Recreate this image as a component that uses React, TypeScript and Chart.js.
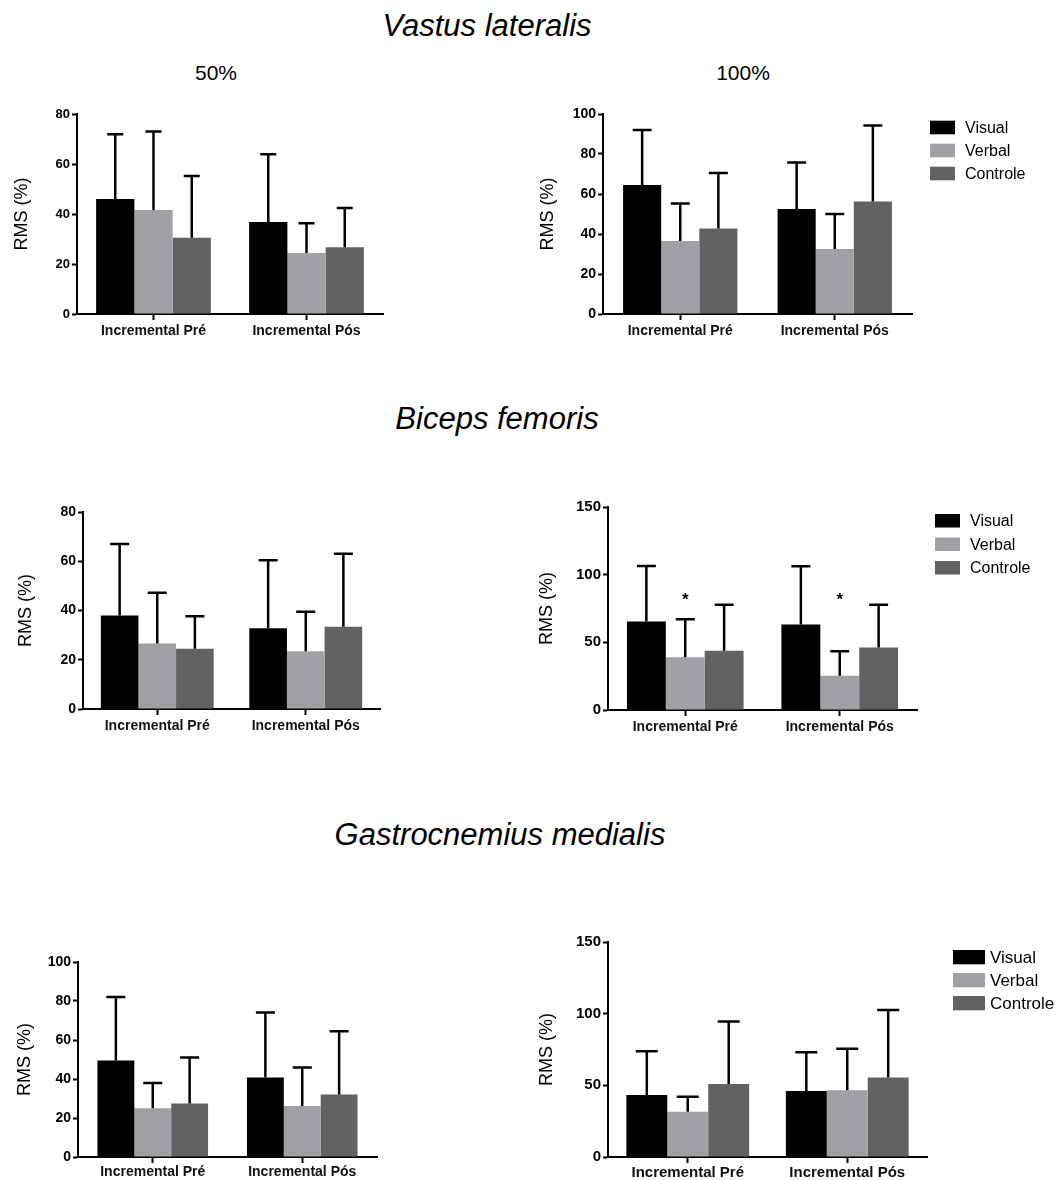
import React, { useEffect, useRef } from "react";
import { Chart, registerables } from "chart.js";

Chart.register(...registerables);

const FONT = "'Liberation Sans', Arial, Helvetica, sans-serif";

// ---------- data ----------
const categories = ["Incremental Pré", "Incremental Pós"];
const groups = ["Visual", "Verbal", "Controle"];
const groupColors = ["#000000", "#a1a1a5", "#626262"];
const yAxisTitle = "RMS (%)";

// Vastus lateralis 50%
const vl50Visual = [46, 36.8];
const vl50Verbal = [41.6, 24.4];
const vl50Controle = [30.5, 26.7];
const vl50VisualSD = [25.9, 27.1];
const vl50VerbalSD = [31.4, 11.9];
const vl50ControleSD = [24.7, 15.7];

// Vastus lateralis 100%
const vl100Visual = [64.5, 52.5];
const vl100Verbal = [36.5, 32.5];
const vl100Controle = [42.8, 56.2];
const vl100VisualSD = [27.5, 23.3];
const vl100VerbalSD = [18.7, 17.5];
const vl100ControleSD = [27.7, 38.1];

// Biceps femoris 50%
const bf50Visual = [38, 32.8];
const bf50Verbal = [26.6, 23.5];
const bf50Controle = [24.5, 33.4];
const bf50VisualSD = [29, 27.6];
const bf50VerbalSD = [20.6, 16];
const bf50ControleSD = [13.2, 29.6];

// Biceps femoris 100%
const bf100Visual = [65.4, 63.2];
const bf100Verbal = [39, 25.4];
const bf100Controle = [43.7, 46.1];
const bf100VisualSD = [41, 43];
const bf100VerbalSD = [28, 18];
const bf100ControleSD = [34, 31.6];
const bf100VerbalStars = [84, 84];

// Gastrocnemius medialis 50%
const gm50Visual = [49.5, 40.8];
const gm50Verbal = [25, 26.2];
const gm50Controle = [27.5, 32];
const gm50VisualSD = [32.5, 33.3];
const gm50VerbalSD = [12.9, 19.7];
const gm50ControleSD = [23.5, 32.5];

// Gastrocnemius medialis 100%
const gm100Visual = [43.3, 46];
const gm100Verbal = [31.5, 46.5];
const gm100Controle = [51, 55.5];
const gm100VisualSD = [30.5, 27];
const gm100VerbalSD = [10.5, 29];
const gm100ControleSD = [43.5, 47];

const yMaxes = [80, 100, 80, 150, 100, 150];
const ySteps = [20, 20, 20, 50, 20, 50];

// ---------- panels ----------
type Panel = {
  means: number[][];
  sds: number[][];
  yMax: number;
  yStep: number;
  stars?: number[];
  legend?: { dx: number; dy: number; bw: number; bh: number; gap: number; tg: number; font: number };
  box: { L: number; T: number; W: number; H: number; padT: number; padB: number; padR: number; wy: number; hx: number };
  titlePad: number;
  yFont: number;
  xFont: number;
  xPad: number;
  cat: number;
  cap: number;
};

const panels: Panel[] = [
  {
    means: [vl50Visual, vl50Verbal, vl50Controle],
    sds: [vl50VisualSD, vl50VerbalSD, vl50ControleSD],
    yMax: yMaxes[0], yStep: ySteps[0],
    box: { L: 0, T: 100, W: 393, H: 249, padT: 14, padB: 5, padR: 10, wy: 77, hx: 30 },
    titlePad: 11, yFont: 13, xFont: 14, xPad: 3, cat: 0.75, cap: 16,
  },
  {
    means: [vl100Visual, vl100Verbal, vl100Controle],
    sds: [vl100VisualSD, vl100VerbalSD, vl100ControleSD],
    yMax: yMaxes[1], yStep: ySteps[1],
    legend: { dx: 18, dy: 6.7, bw: 25, bh: 13.6, gap: 23, tg: 10, font: 16 },
    box: { L: 530, T: 100, W: 529, H: 249, padT: 14, padB: 5, padR: 147, wy: 73, hx: 30 },
    titlePad: 7, yFont: 14, xFont: 14, xPad: 3, cat: 0.74, cap: 19,
  },
  {
    means: [bf50Visual, bf50Verbal, bf50Controle],
    sds: [bf50VisualSD, bf50VerbalSD, bf50ControleSD],
    yMax: yMaxes[2], yStep: ySteps[2],
    box: { L: 0, T: 497, W: 390, H: 247, padT: 15, padB: 5, padR: 10, wy: 83, hx: 30 },
    titlePad: 15, yFont: 14, xFont: 14, xPad: 3, cat: 0.76, cap: 19,
  },
  {
    means: [bf100Visual, bf100Verbal, bf100Controle],
    sds: [bf100VisualSD, bf100VerbalSD, bf100ControleSD],
    yMax: yMaxes[3], yStep: ySteps[3],
    stars: bf100VerbalStars,
    legend: { dx: 18, dy: 7, bw: 25, bh: 13.5, gap: 23.5, tg: 10, font: 16 },
    box: { L: 530, T: 492, W: 529, H: 253, padT: 15, padB: 5, padR: 142, wy: 78, hx: 30 },
    titlePad: 6, yFont: 15, xFont: 14, xPad: 3, cat: 0.755, cap: 19,
  },
  {
    means: [gm50Visual, gm50Verbal, gm50Controle],
    sds: [gm50VisualSD, gm50VerbalSD, gm50ControleSD],
    yMax: yMaxes[4], yStep: ySteps[4],
    box: { L: 0, T: 947, W: 387, H: 232, padT: 15, padB: 0, padR: 10, wy: 78, hx: 22 },
    titlePad: 14, yFont: 14, xFont: 14, xPad: 1, cat: 0.74, cap: 19,
  },
  {
    means: [gm100Visual, gm100Verbal, gm100Controle],
    sds: [gm100VisualSD, gm100VerbalSD, gm100ControleSD],
    yMax: yMaxes[5], yStep: ySteps[5],
    legend: { dx: 26, dy: 8, bw: 32, bh: 14.3, gap: 23, tg: 5, font: 17 },
    box: { L: 530, T: 927, W: 529, H: 252, padT: 15, padB: 0, padR: 132, wy: 78, hx: 22 },
    titlePad: 6, yFont: 15, xFont: 15, xPad: 1, cat: 0.77, cap: 22,
  },
];

const headings = [
  { text: "Vastus lateralis", cx: 487, top: 8 },
  { text: "Biceps femoris", cx: 497, top: 401 },
  { text: "Gastrocnemius medialis", cx: 500, top: 817 },
];
const subHeadings = [
  { text: "50%", cx: 216, top: 60 },
  { text: "100%", cx: 743, top: 60 },
];

function makeOverlay(p: Panel) {
  return {
    id: "overlay",
    afterDatasetsDraw(chart: any) {
      const ctx = chart.ctx;
      const yS = chart.scales.y;
      ctx.save();
      ctx.strokeStyle = "#000";
      ctx.lineWidth = 2.5;
      chart.data.datasets.forEach((ds: any, i: number) => {
        const meta = chart.getDatasetMeta(i);
        meta.data.forEach((el: any, j: number) => {
          const v = ds.data[j];
          const top = yS.getPixelForValue(v + p.sds[i][j]);
          ctx.beginPath();
          ctx.moveTo(el.x, el.y);
          ctx.lineTo(el.x, top);
          ctx.moveTo(el.x - p.cap / 2, top);
          ctx.lineTo(el.x + p.cap / 2, top);
          ctx.stroke();
        });
      });
      if (p.stars) {
        const meta = chart.getDatasetMeta(1);
        ctx.fillStyle = "#000";
        ctx.font = `bold 17px ${FONT}`;
        ctx.textAlign = "center";
        ctx.textBaseline = "middle";
        meta.data.forEach((el: any, j: number) => {
          ctx.fillText("*", el.x, yS.getPixelForValue(p.stars![j]) + 4);
        });
      }
      ctx.restore();
    },
    afterDraw(chart: any) {
      if (!p.legend) return;
      const lg = p.legend;
      const ctx = chart.ctx;
      const ca = chart.chartArea;
      ctx.save();
      ctx.font = `${lg.font}px ${FONT}`;
      ctx.textAlign = "left";
      ctx.textBaseline = "middle";
      chart.data.datasets.forEach((ds: any, i: number) => {
        const x = ca.right + lg.dx;
        const y = ca.top + lg.dy + i * lg.gap;
        ctx.fillStyle = ds.backgroundColor;
        ctx.fillRect(x, y, lg.bw, lg.bh);
        ctx.fillStyle = "#000";
        ctx.fillText(ds.label, x + lg.bw + lg.tg, y + lg.bh / 2 + 1);
      });
      ctx.restore();
    },
  };
}

function BarPanel({ p }: { p: Panel }) {
  const ref = useRef<HTMLCanvasElement>(null);
  useEffect(() => {
    if (!ref.current) return;
    const chart = new Chart(ref.current, {
      type: "bar",
      data: {
        labels: categories,
        datasets: groups.map((g, i) => ({
          label: g,
          data: p.means[i],
          backgroundColor: groupColors[i],
          borderWidth: 0,
          categoryPercentage: p.cat,
          barPercentage: 1,
        })),
      },
      options: {
        responsive: false,
        animation: false,
        devicePixelRatio: 1,
        layout: { padding: { left: 0, top: p.box.padT, right: p.box.padR, bottom: p.box.padB } },
        plugins: { legend: { display: false }, tooltip: { enabled: false } },
        scales: {
          x: {
            grid: { drawOnChartArea: false, offset: false, drawTicks: true, tickLength: 6, tickColor: "#000", tickWidth: 2 },
            border: { color: "#000", width: 2 },
            ticks: { color: "#111", font: { family: FONT, size: p.xFont, weight: "bold" }, padding: p.xPad },
            afterFit: (s: any) => { s.height = p.box.hx; },
          },
          y: {
            min: 0,
            max: p.yMax,
            ticks: { stepSize: p.yStep, color: "#000", font: { family: FONT, size: p.yFont, weight: "bold" }, padding: 2 },
            grid: { drawOnChartArea: false, drawTicks: true, tickLength: 5, tickColor: "#000", tickWidth: 2 },
            border: { color: "#000", width: 2 },
            title: { display: true, text: yAxisTitle, color: "#000", font: { family: FONT, size: 18 }, padding: { top: p.titlePad, bottom: 0 } },
            afterFit: (s: any) => { s.width = p.box.wy; },
          },
        },
      } as any,
      plugins: [makeOverlay(p)],
    });
    return () => chart.destroy();
  }, []);
  return (
    <canvas
      ref={ref}
      width={p.box.W}
      height={p.box.H}
      style={{ position: "absolute", left: p.box.L, top: p.box.T, width: p.box.W, height: p.box.H }}
    />
  );
}

export default function App() {
  return (
    <div style={{ position: "absolute", left: 0, top: 0, width: 1059, height: 1180, background: "#fff", overflow: "hidden" }}>
      {headings.map((h) => (
        <div
          key={h.text}
          style={{
            position: "absolute", left: h.cx - 300, width: 600, top: h.top, textAlign: "center",
            fontFamily: FONT, fontStyle: "italic", fontSize: 31, lineHeight: "36px", color: "#000",
          }}
        >
          {h.text}
        </div>
      ))}
      {subHeadings.map((h) => (
        <div
          key={h.text}
          style={{
            position: "absolute", left: h.cx - 100, width: 200, top: h.top, textAlign: "center",
            fontFamily: FONT, fontSize: 21, lineHeight: "26px", color: "#000",
          }}
        >
          {h.text}
        </div>
      ))}
      {panels.map((p, i) => (
        <BarPanel key={i} p={p} />
      ))}
    </div>
  );
}
